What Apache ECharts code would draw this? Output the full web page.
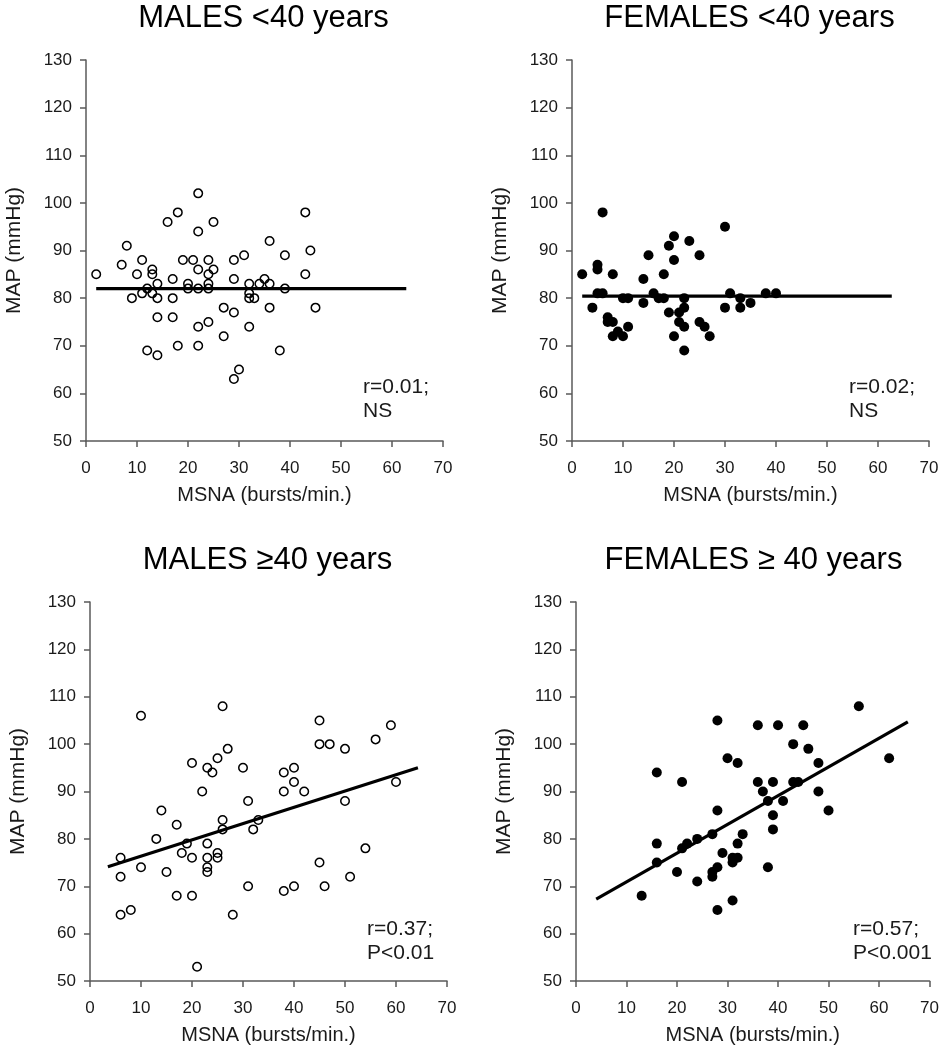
<!DOCTYPE html>
<html><head><meta charset="utf-8">
<script src="https://cdn.jsdelivr.net/npm/echarts@6/dist/echarts.min.js"></script>
<style>html,body{margin:0;padding:0;background:#fff}#c{width:942px;height:1050px}</style>
</head><body><div id="c"></div><script>
// ---- data ----
const panelTitles = ['MALES <40 years', 'FEMALES <40 years', 'MALES \u226540 years', 'FEMALES \u2265 40 years'];
const statLine1 = ['r=0.01;', 'r=0.02;', 'r=0.37;', 'r=0.57;'];
const statLine2 = ['NS', 'NS', 'P<0.01', 'P<0.001'];
const xAxisName = 'MSNA (bursts/min.)';
const yAxisName = 'MAP (mmHg)';
const xRange = [0, 70, 10];
const yRange = [50, 130, 10];

const malesUnder40 = [[2,85],[7,87],[8,91],[9,80],[10,85],[11,88],[11,81],[12,82],[12,69],[13,86],[13,85],[13,81],
  [14,83],[14,80],[14,76],[14,68],[16,96],[17,84],[17,80],[17,76],[18,98],[18,70],[19,88],[20,83],[20,82],[21,88],
  [22,102],[22,94],[22,86],[22,82],[22,74],[22,70],[24,88],[24,85],[24,83],[24,82],[24,75],[25,96],[25,86],[27,78],
  [27,72],[29,88],[29,84],[29,77],[29,63],[30,65],[31,89],[32,83],[32,81],[32,80],[33,80],[32,74],[34,83],[35,84],
  [36,92],[36,83],[36,78],[38,69],[39,89],[39,82],[43,98],[43,85],[44,90],[45,78]];
const femalesUnder40 = [[2,85],[4,78],[5,87],[5,86],[5,81],[6,81],[6,98],[7,76],[7,75],[8,85],[8,75],[8,72],[9,73],
  [10,80],[10,72],[11,80],[11,74],[14,84],[14,79],[15,89],[16,81],[17,80],[18,85],[18,80],[19,91],[19,77],[20,93],
  [20,88],[20,72],[21,77],[21,75],[22,80],[22,78],[22,74],[22,69],[23,92],[25,89],[25,75],[26,74],[27,72],[30,95],
  [30,78],[31,81],[33,80],[33,78],[35,79],[38,81],[40,81]];
const malesOver40 = [[6,76],[6,72],[6,64],[8,65],[10,106],[10,74],[13,80],[14,86],[15,73],[17,83],[17,68],[18,77],
  [19,79],[20,96],[20,76],[20,68],[21,53],[22,90],[23,95],[23,79],[23,76],[23,74],[23,73],[24,94],[25,97],[25,77],
  [25,76],[26,108],[26,84],[26,82],[27,99],[28,64],[30,95],[31,88],[31,70],[32,82],[33,84],[38,94],[38,90],[38,69],
  [40,95],[40,92],[40,70],[42,90],[45,105],[45,100],[45,75],[46,70],[47,100],[50,99],[50,88],[51,72],[54,78],
  [56,101],[59,104],[60,92]];
const femalesOver40 = [[13,68],[16,94],[16,79],[16,75],[20,73],[21,92],[21,78],[22,79],[24,80],[24,71],[27,81],
  [27,73],[27,72],[28,105],[28,86],[28,74],[28,65],[29,77],[30,97],[31,76],[31,75],[31,67],[32,96],[32,79],[32,76],
  [33,81],[36,104],[36,92],[37,90],[38,88],[38,74],[39,92],[39,85],[39,82],[40,104],[41,88],[43,100],[43,92],
  [44,92],[45,104],[46,99],[48,96],[48,90],[50,86],[56,108],[62,97]];

const fitMalesUnder40 = [[2,82],[62.8,82]];
const fitFemalesUnder40 = [[2,80.4],[62.7,80.4]];
const fitMalesOver40 = [[3.5,74.1],[64.3,95]];
const fitFemalesOver40 = [[4,67.3],[65.7,104.7]];

const panelPoints = [malesUnder40, femalesUnder40, malesOver40, femalesOver40];
const panelFits = [fitMalesUnder40, fitFemalesUnder40, fitMalesOver40, fitFemalesOver40];
const panelFilled = [false, true, false, true];

// ---- layout / style ----
const FONT = '"Liberation Sans", Arial, Helvetica, sans-serif';
const grids = [
  {left: 86, top: 60, width: 357, height: 381},
  {left: 572, top: 60, width: 357, height: 381},
  {left: 90, top: 602, width: 357, height: 379},
  {left: 576, top: 602, width: 357, height: 379}
];
const axisColor = '#5a5a5a';
const textColor = '#1a1a1a';
const xAxes = [], yAxes = [], series = [], graphics = [];
grids.forEach((g, i) => {
  xAxes.push({
    gridIndex: i, type: 'value', min: xRange[0], max: xRange[1], interval: xRange[2],
    axisLine: {show: true, onZero: false, lineStyle: {color: axisColor, width: 1.5}},
    axisTick: {show: true, length: 6, lineStyle: {color: axisColor, width: 1.5}},
    axisLabel: {fontSize: 17, color: textColor, margin: 19, fontFamily: FONT},
    splitLine: {show: false},
    name: xAxisName, nameLocation: 'middle', nameGap: 44,
    nameTextStyle: {fontSize: 20, color: textColor, fontFamily: FONT}
  });
  yAxes.push({
    gridIndex: i, type: 'value', min: yRange[0], max: yRange[1], interval: yRange[2],
    axisLine: {show: true, onZero: false, lineStyle: {color: axisColor, width: 1.5}},
    axisTick: {show: true, length: 6, lineStyle: {color: axisColor, width: 1.5}},
    axisLabel: {fontSize: 17, color: textColor, margin: 14, fontFamily: FONT},
    splitLine: {show: false},
    name: yAxisName, nameLocation: 'middle', nameGap: 61, nameRotate: 90,
    nameTextStyle: {fontSize: 21, color: textColor, fontFamily: FONT}
  });
  series.push({
    type: 'line', xAxisIndex: i, yAxisIndex: i, data: panelFits[i], symbol: 'none',
    lineStyle: {color: '#000', width: 3.2}, z: 2, silent: true
  });
  series.push({
    type: 'scatter', xAxisIndex: i, yAxisIndex: i, data: panelPoints[i],
    symbol: 'circle', symbolSize: panelFilled[i] ? 10 : 8.5,
    itemStyle: panelFilled[i] ? {color: '#000', opacity: 1}
      : {color: 'rgba(255,255,255,0)', borderColor: '#000', borderWidth: 1.5, opacity: 1},
    z: 3
  });
  const cx = g.left + g.width / 2;
  graphics.push({type: 'text', x: cx - 1, y: g.top - 42,
    style: {text: panelTitles[i], fill: '#000', fontSize: 31, fontFamily: FONT, align: 'center', verticalAlign: 'middle'}});
  graphics.push({type: 'text', x: g.left + 277, y: g.top + 327,
    style: {text: statLine1[i], fill: textColor, fontSize: 21, fontFamily: FONT, align: 'left', verticalAlign: 'middle'}});
  graphics.push({type: 'text', x: g.left + 277, y: g.top + 351,
    style: {text: statLine2[i], fill: textColor, fontSize: 21, fontFamily: FONT, align: 'left', verticalAlign: 'middle'}});
});

const chart = echarts.init(document.getElementById('c'), null, {renderer: 'canvas'});
chart.setOption({
  animation: false,
  backgroundColor: '#fff',
  grid: grids,
  xAxis: xAxes,
  yAxis: yAxes,
  series: series,
  graphic: graphics
});
</script></body></html>
